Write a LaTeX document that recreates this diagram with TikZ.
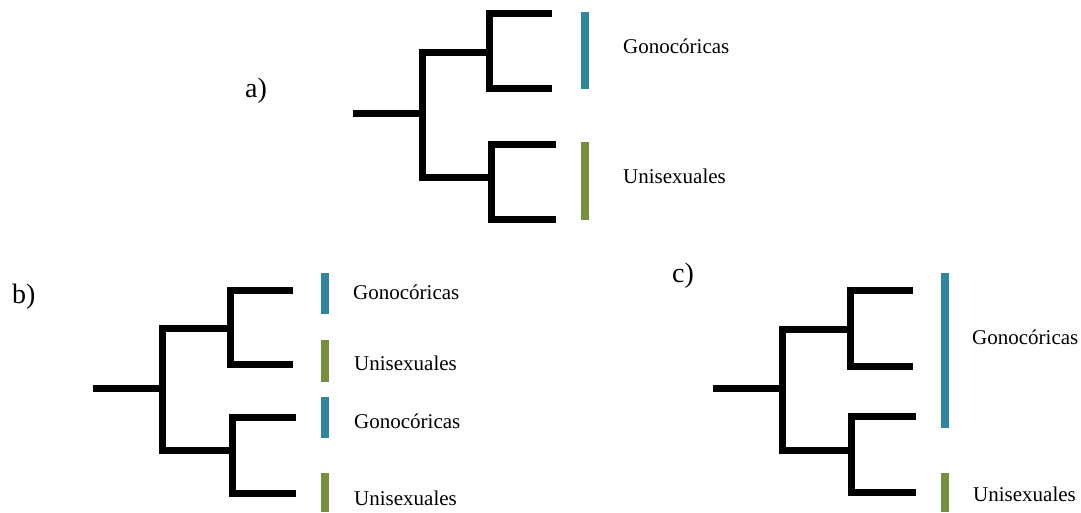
\documentclass[tikz,border=0pt]{standalone}
\usepackage{fontspec}
\setmainfont{Liberation Serif}
\definecolor{gono}{RGB}{47,134,158}
\definecolor{unis}{RGB}{118,144,60}
\begin{document}
\begin{tikzpicture}[x=1pt,y=-1pt,
  branch/.style={line width=7pt, line join=miter, line cap=butt, black},
  gbar/.style={line width=8pt, gono},
  ubar/.style={line width=8pt, unis},
  lab/.style={anchor=base west, inner sep=0pt, font=\fontsize{21}{24}\selectfont},
  panel/.style={anchor=base west, inner sep=0pt, font=\fontsize{28}{32}\selectfont}]
\useasboundingbox (0,0) rectangle (1081,512);
% ---------- a)
\node[panel] (la) at (245,97) {a)};
\coordinate (aR) at (353,113);
\coordinate (aM) at (422,113);
\coordinate (aU) at (489,52);
\coordinate (aL) at (491,177);
\coordinate (aT1) at (552,13);
\coordinate (aT2) at (552,88);
\coordinate (aT3) at (556,144);
\coordinate (aT4) at (556,219);
\draw[branch] (aR) -- (aM);
\draw[branch] (aU) -| (aM |- aU) -- (aM |- aL) -- (aL);
\draw[branch] (aT1) -- (aU |- aT1) -- (aU |- aT2) -- (aT2);
\draw[branch] (aT3) -- (aL |- aT3) -- (aL |- aT4) -- (aT4);
\draw[gbar] (585,12) -- (585,89);
\draw[ubar] (585,142) -- (585,220);
\node[lab] (ag) at (623,53) {Gonocóricas};
\node[lab] (au) at (623,183) {Unisexuales};
% ---------- b)
\node[panel] (lb) at (12,303) {b)};
\coordinate (bR) at (93,388);
\coordinate (bM) at (162,388);
\coordinate (bU) at (230,328);
\coordinate (bL) at (232,450);
\coordinate (bT1) at (293,290);
\coordinate (bT2) at (293,364);
\coordinate (bT3) at (296,417);
\coordinate (bT4) at (296,493);
\draw[branch] (bR) -- (bM);
\draw[branch] (bU) -- (bM |- bU) -- (bM |- bL) -- (bL);
\draw[branch] (bT1) -- (bU |- bT1) -- (bU |- bT2) -- (bT2);
\draw[branch] (bT3) -- (bL |- bT3) -- (bL |- bT4) -- (bT4);
\draw[gbar] (325,273) -- (325,314);
\draw[ubar] (325,340) -- (325,382);
\draw[gbar] (325,397) -- (325,438);
\draw[ubar] (325,473) -- (325,512);
\node[lab] (bg1) at (353,299) {Gonocóricas};
\node[lab] (bu1) at (354,370) {Unisexuales};
\node[lab] (bg2) at (354,428) {Gonocóricas};
\node[lab] (bu2) at (354,505) {Unisexuales};
% ---------- c)
\node[panel] (lc) at (672,282) {c)};
\coordinate (cR) at (713,388);
\coordinate (cM) at (782,388);
\coordinate (cU) at (850,329);
\coordinate (cL) at (851,450);
\coordinate (cT1) at (913,290);
\coordinate (cT2) at (913,366);
\coordinate (cT3) at (916,416);
\coordinate (cT4) at (916,492);
\draw[branch] (cR) -- (cM);
\draw[branch] (cU) -- (cM |- cU) -- (cM |- cL) -- (cL);
\draw[branch] (cT1) -- (cU |- cT1) -- (cU |- cT2) -- (cT2);
\draw[branch] (cT3) -- (cL |- cT3) -- (cL |- cT4) -- (cT4);
\draw[gbar] (945,273) -- (945,428);
\draw[ubar] (945,473) -- (945,512);
\node[lab] (cg) at (972,344) {Gonocóricas};
\node[lab] (cu) at (973,501) {Unisexuales};
\end{tikzpicture}
\end{document}
